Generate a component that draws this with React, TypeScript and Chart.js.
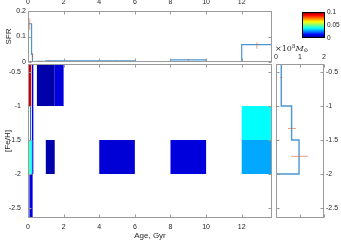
import React, { useEffect, useRef } from "react";
import { Chart, registerables } from "chart.js";
Chart.register(...registerables);

// ---------- data ----------
const ageTicks = [0, 2, 4, 6, 8, 10, 12];
const fehTicks = [-2.5, -2, -1.5, -1, -0.5];
const sfrTicks = [0, 0.1, 0.2];
const massTicks = [0, 1, 2];
const cbarTicks = [0, 0.05, 0.1];

const ageMin = 0;
const ageMax = 13.7;
const fehMin = -2.647;
const fehMax = -0.382;
const sfrMin = 0;
const sfrMax = 0.2;
const massMin = 0;
const massMax = 2;
const cbarMin = 0;
const cbarMax = 0.1;

// SFR histogram (age bin edges in Gyr, SFR per bin)
const sfrEdges = [0, 0.02, 0.2, 0.25, 0.5, 1, 2, 4, 6, 8, 10, 12, 13.7];
const sfrValues = [0.1, 0.15, 0.03, 0.001, 0.003, 0.005, 0.005, 0.005, 0.001, 0.008, 0.002, 0.068];
// SFR error bars
const sfrErrAge = [0.03, 0.1, 0.26, 1.2, 5, 9, 12.85];
const sfrErrLo = [0.09, 0.125, 0.015, 0.003, 0.004, 0.004, 0.052];
const sfrErrHi = [0.18, 0.17, 0.036, 0.008, 0.007, 0.012, 0.077];

// age-metallicity map cells
const cellAgeLo = [0, 0.22, 0, 0.12, 0, 0.06, 0.12, 0.24, 0.08, 0.5, 1.5, 1, 4, 8, 12, 12];
const cellAgeHi = [0.18, 0.3, 0.05, 0.17, 0.06, 0.12, 0.24, 0.3, 0.26, 1.5, 2, 1.5, 6, 10, 13.7, 13.7];
const cellFehLo = [-1, -1.5, -1.5, -1.5, -2, -2, -2, -2, -2.65, -1, -1, -2, -2, -2, -1.5, -2];
const cellFehHi = [-0.38, -0.38, -1, -1, -1.5, -1.5, -1.5, -1.5, -2, -0.38, -0.38, -1.5, -1.5, -1.5, -1, -1.5];
const cellValue = [0.092, 0.009, 0.02, 0.02, 0.085, 0.045, 0.038, 0.009, 0.01, 0.0042, 0.0092, 0.0042, 0.0085, 0.0092, 0.0375, 0.029];

// metallicity distribution (x10^8 Msun)
const mdfEdges = [-0.38, -1, -1.5, -2, -2.65];
const mdfMass = [0.22, 0.65, 0.96, 0];
const mdfErrFeh = [-0.58, -1.33, -1.74];
const mdfErrLo = [0.17, 0.5, 0.63];
const mdfErrHi = [0.26, 0.83, 1.33];

// ---------- helpers ----------
const FONT = "'Liberation Sans', Arial, Helvetica, sans-serif";
const TXT = "#262626";
const AXIS = "#9a9a9a";
const LINE = "#4b97d1";
const ERR = "rgba(217,83,25,0.55)";

function jet(t: number) {
  const c = (v: number) => Math.max(0, Math.min(1, v));
  const r = c(1.5 - Math.abs(4 * t - 3));
  const g = c(1.5 - Math.abs(4 * t - 2));
  const b = c(1.5 - Math.abs(4 * t - 1));
  return `rgb(${Math.round(r * 255)},${Math.round(g * 255)},${Math.round(b * 255)})`;
}

function scale(o: any) {
  return {
    type: "linear",
    position: o.position,
    min: o.min,
    max: o.max,
    display: o.display === undefined ? true : o.display,
    grid: { display: false, drawTicks: false },
    border: { display: false },
    afterBuildTicks: (s: any) => {
      s.ticks = o.ticks.map((v: number) => ({ value: v }));
    },
    afterFit: (s: any) => {
      if (s.isHorizontal()) s.height = o.size;
      else s.width = o.size;
      s.paddingTop = 0;
      s.paddingBottom = 0;
      s.paddingLeft = 0;
      s.paddingRight = 0;
    },
    ticks: {
      padding: o.pad,
      color: TXT,
      font: { family: FONT, size: o.fontSize || 7 },
      maxRotation: 0,
      autoSkip: false,
      callback: (v: any) => String(v),
    },
    title: o.title
      ? { display: true, text: o.title, color: TXT, font: { family: FONT, size: 8 }, padding: o.titlePad }
      : { display: false },
  };
}

const boxPlugin = {
  id: "box",
  afterDraw(chart: any, _args: any, opts: any) {
    const { ctx, chartArea: a } = chart;
    ctx.save();
    ctx.strokeStyle = opts.color || AXIS;
    ctx.lineWidth = 1;
    const L = Math.round(a.left) + 0.5;
    const R = Math.round(a.right) - 0.5;
    const T = Math.round(a.top) + 0.5;
    const B = Math.round(a.bottom) - 0.5;
    ctx.strokeRect(L, T, R - L, B - T);
    if (opts.ticks !== false) {
      const len = 3;
      ctx.beginPath();
      for (const id of Object.keys(chart.scales)) {
        const s = chart.scales[id];
        if (!s.options.display) continue;
        for (const t of s.ticks) {
          const p = Math.round(s.getPixelForValue(t.value)) + 0.5;
          if (s.isHorizontal()) {
            ctx.moveTo(p, T);
            ctx.lineTo(p, T + len);
            ctx.moveTo(p, B);
            ctx.lineTo(p, B - len);
          } else {
            ctx.moveTo(L, p);
            ctx.lineTo(L + len, p);
            ctx.moveTo(R, p);
            ctx.lineTo(R - len, p);
          }
        }
      }
      ctx.stroke();
    }
    ctx.restore();
  },
};

const cellsPlugin = {
  id: "cells",
  beforeDatasetsDraw(chart: any) {
    const { ctx, chartArea: a } = chart;
    const xs = chart.scales.x;
    const ys = chart.scales.y;
    ctx.save();
    ctx.beginPath();
    ctx.rect(a.left, a.top, a.right - a.left, a.bottom - a.top);
    ctx.clip();
    for (let i = 0; i < cellValue.length; i++) {
      const x0 = xs.getPixelForValue(cellAgeLo[i]);
      const x1 = xs.getPixelForValue(cellAgeHi[i]);
      const y0 = ys.getPixelForValue(cellFehHi[i]);
      const y1 = ys.getPixelForValue(cellFehLo[i]);
      ctx.fillStyle = jet((cellValue[i] - cbarMin) / (cbarMax - cbarMin));
      ctx.fillRect(x0, y0, x1 - x0, y1 - y0);
    }
    ctx.restore();
  },
};

const cbarPlugin = {
  id: "cbar",
  beforeDatasetsDraw(chart: any) {
    const { ctx, chartArea: a } = chart;
    const ys = chart.scales.y;
    const yb = ys.getPixelForValue(cbarMin);
    const yt = ys.getPixelForValue(cbarMax);
    const g = ctx.createLinearGradient(0, yb, 0, yt);
    for (let i = 0; i <= 32; i++) g.addColorStop(i / 32, jet(i / 32));
    ctx.save();
    ctx.fillStyle = g;
    ctx.fillRect(a.left, yt, a.right - a.left, yb - yt);
    ctx.restore();
  },
};

function sfrSteps() {
  const pts: any[] = [{ x: sfrEdges[0], y: 0 }];
  for (let i = 0; i < sfrValues.length; i++) pts.push({ x: sfrEdges[i], y: sfrValues[i] });
  const last = sfrEdges[sfrEdges.length - 1];
  pts.push({ x: last, y: sfrValues[sfrValues.length - 1] });
  pts.push({ x: last, y: 0 });
  return pts;
}

function sfrErrPts() {
  const pts: any[] = [];
  for (let i = 0; i < sfrErrAge.length; i++) {
    pts.push({ x: sfrErrAge[i], y: sfrErrLo[i] });
    pts.push({ x: sfrErrAge[i], y: sfrErrHi[i] });
    pts.push({ x: NaN, y: NaN });
  }
  return pts;
}

function mdfSteps() {
  const pts: any[] = [{ x: 0, y: mdfEdges[0] }];
  for (let i = 0; i < mdfMass.length; i++) {
    pts.push({ x: mdfMass[i], y: mdfEdges[i] });
    pts.push({ x: mdfMass[i], y: mdfEdges[i + 1] });
  }
  return pts;
}

function mdfErrPts() {
  const pts: any[] = [];
  for (let i = 0; i < mdfErrFeh.length; i++) {
    pts.push({ x: mdfErrLo[i], y: mdfErrFeh[i] });
    pts.push({ x: mdfErrHi[i], y: mdfErrFeh[i] });
    pts.push({ x: NaN, y: NaN });
  }
  return pts;
}

const baseOpts = {
  animation: false,
  responsive: false,
  devicePixelRatio: 1,
  events: [],
};

export default function App() {
  const topRef = useRef<HTMLCanvasElement>(null);
  const mainRef = useRef<HTMLCanvasElement>(null);
  const rightRef = useRef<HTMLCanvasElement>(null);
  const cbarRef = useRef<HTMLCanvasElement>(null);

  useEffect(() => {
    const charts: Chart[] = [];

    charts.push(
      new Chart(topRef.current as HTMLCanvasElement, {
        type: "scatter",
        data: {
          datasets: [
            { data: sfrErrPts(), showLine: true, borderColor: ERR, borderWidth: 1, pointRadius: 0, spanGaps: false },
            { data: sfrSteps(), showLine: true, stepped: "before", borderColor: LINE, borderWidth: 1.2, pointRadius: 0 },
          ],
        },
        options: {
          ...baseOpts,
          layout: { padding: { left: 0, right: 4, top: 0, bottom: 4 } },
          plugins: { legend: { display: false }, tooltip: { enabled: false }, box: {} },
          scales: {
            x: scale({ position: "top", min: ageMin, max: ageMax, ticks: ageTicks, size: 11, pad: 5 }),
            y: scale({ position: "left", min: sfrMin, max: sfrMax, ticks: sfrTicks, size: 28, pad: 2, title: "SFR", titlePad: { top: 4, bottom: 0 } }),
          },
        } as any,
        plugins: [boxPlugin],
      } as any)
    );

    charts.push(
      new Chart(mainRef.current as HTMLCanvasElement, {
        type: "scatter",
        data: { datasets: [] },
        options: {
          ...baseOpts,
          layout: { padding: { left: 0, right: 4, top: 4, bottom: 0 } },
          plugins: { legend: { display: false }, tooltip: { enabled: false }, box: {} },
          scales: {
            x: scale({ position: "bottom", min: ageMin, max: ageMax, ticks: ageTicks, size: 24, pad: 5, title: "Age, Gyr", titlePad: { top: 0, bottom: 1 } }),
            y: scale({ position: "left", min: fehMin, max: fehMax, ticks: fehTicks, size: 28, pad: 7, title: "[Fe/H]", titlePad: { top: 3, bottom: 0 } }),
          },
        } as any,
        plugins: [cellsPlugin, boxPlugin],
      } as any)
    );

    charts.push(
      new Chart(rightRef.current as HTMLCanvasElement, {
        type: "scatter",
        data: {
          datasets: [
            { data: mdfErrPts(), showLine: true, borderColor: ERR, borderWidth: 1, pointRadius: 0, spanGaps: false },
            { data: mdfSteps(), showLine: true, borderColor: LINE, borderWidth: 1.4, pointRadius: 0 },
          ],
        },
        options: {
          ...baseOpts,
          layout: { padding: { left: 6, right: 0, top: 0, bottom: 2 } },
          plugins: { legend: { display: false }, tooltip: { enabled: false }, box: {} },
          scales: {
            x: scale({ position: "top", min: massMin, max: massMax, ticks: massTicks, size: 24, pad: 3 }),
            y: scale({ position: "right", min: fehMin, max: fehMax, ticks: fehTicks, size: 17, pad: 2 }),
          },
        } as any,
        plugins: [boxPlugin],
      } as any)
    );

    charts.push(
      new Chart(cbarRef.current as HTMLCanvasElement, {
        type: "scatter",
        data: { datasets: [] },
        options: {
          ...baseOpts,
          layout: { padding: { left: 4, right: 0, top: 6, bottom: 6 } },
          plugins: { legend: { display: false }, tooltip: { enabled: false }, box: { color: "#000", ticks: false } },
          scales: {
            x: { type: "linear", display: false, min: 0, max: 1 },
            y: scale({ position: "right", min: cbarMin, max: cbarMax, ticks: cbarTicks, size: 16, pad: 2, fontSize: 6.5 }),
          },
        } as any,
        plugins: [cbarPlugin, boxPlugin],
      } as any)
    );

    return () => charts.forEach((c) => c.destroy());
  }, []);

  const abs = (l: number, t: number): React.CSSProperties => ({ position: "absolute", left: l, top: t });

  return (
    <div style={{ position: "fixed", left: 0, top: 0, width: 341, height: 242, background: "#fff", overflow: "hidden" }}>
      <canvas ref={topRef} width={276} height={66} style={abs(0, 0)} />
      <canvas ref={mainRef} width={276} height={182} style={abs(0, 60)} />
      <canvas ref={rightRef} width={71} height={180} style={abs(270, 40)} />
      <canvas ref={cbarRef} width={43} height={38} style={abs(298, 6)} />
      <div
        style={{
          ...abs(275, 41),
          fontFamily: "'DejaVu Serif', 'Liberation Serif', serif",
          fontSize: 8,
          color: TXT,
          lineHeight: "10px",
          whiteSpace: "nowrap",
        }}
      >
        ×10<sup style={{ fontSize: 5.5, verticalAlign: 3 }}>8</sup>
        <i>M</i>
        <sub style={{ fontSize: 5.5, verticalAlign: -1 }}>⊙</sub>
      </div>
    </div>
  );
}
